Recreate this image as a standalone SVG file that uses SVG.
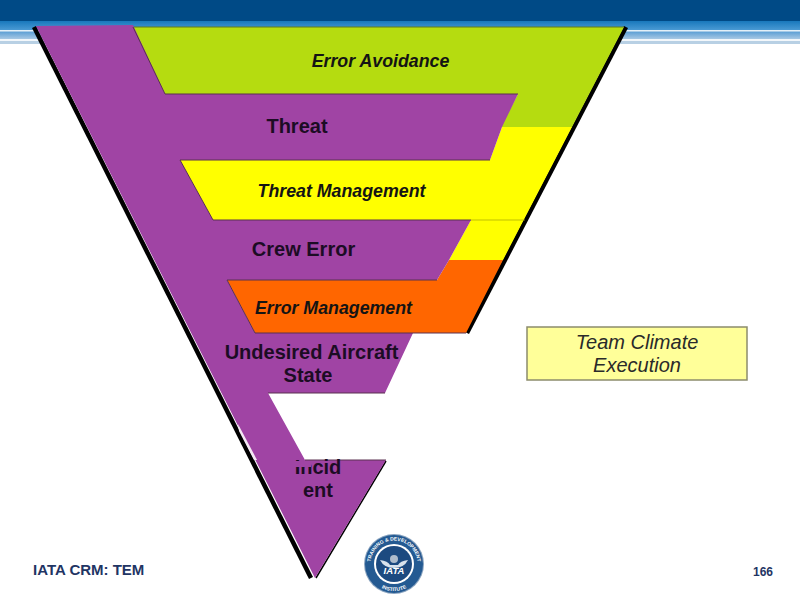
<svg xmlns="http://www.w3.org/2000/svg" width="800" height="600" viewBox="0 0 800 600">
<style>
.pu{fill:#a044a4}
.lab{font-family:"Liberation Sans",Arial,sans-serif;font-weight:bold;fill:#1c0c24;text-anchor:middle;font-size:20px}
.it{font-family:"Liberation Sans",Arial,sans-serif;font-weight:bold;font-style:italic;fill:#141414;text-anchor:middle;font-size:17.800px}
.ft{font-family:"Liberation Sans",Arial,sans-serif;font-weight:bold;fill:#1f3564}
.tc{font-family:"Liberation Sans",Arial,sans-serif;font-style:italic;font-size:20px;fill:#2a2a2a;text-anchor:middle}
.lg{font-family:"Liberation Sans",Arial,sans-serif;font-weight:bold;fill:#fff;text-anchor:middle}
</style>
<defs>
<linearGradient id="st1" x1="0" y1="0" x2="0" y2="1"><stop offset="0" stop-color="#1878bc"/><stop offset="1" stop-color="#4a9ad4"/></linearGradient>
<linearGradient id="st2" x1="0" y1="0" x2="0" y2="1"><stop offset="0" stop-color="#5a9ed4"/><stop offset="1" stop-color="#a8c8e4"/></linearGradient>
<path id="ringTop" d="M370.500 564a23.500 23.500 0 0 1 47 0"/>
<path id="ringBot" d="M367 564a27 27 0 0 0 54 0"/>
</defs>
<rect width="800" height="600" fill="#fff"/>
<g id="header">
<rect x="0" y="0" width="800" height="21" fill="#004a86"/>
<rect x="0" y="21" width="800" height="9" fill="url(#st1)"/>
<rect x="0" y="30" width="800" height="1.500" fill="#e4f0f8"/>
<rect x="0" y="31.500" width="800" height="7.500" fill="url(#st2)"/>
<rect x="0" y="39" width="800" height="2" fill="#f2f7fb"/>
<rect x="0" y="41" width="800" height="3" fill="#b8d0e4"/>
</g>
<g id="funnel-shadow" fill="none" stroke="#000" stroke-linecap="butt">
<path d="M34,27 L311,578" stroke-width="4.500"/>
<path d="M626,27 L467,333" stroke-width="4.500"/>
<path d="M386,461 L316,578" stroke-width="1.500"/>
</g>
<g id="error-avoidance">
<polygon points="133,27 624,27 572,127 501,127 518,94 165,94" fill="#b5dc10"/>
<path d="M133,27H624" stroke="#5f7a20" stroke-width="1" fill="none"/>
<text class="it" x="380.500" y="67">Error Avoidance</text>
</g>
<g id="threat-management">
<polygon points="180,160 490,160 502,127 572,127 503,260 449,260 471,220 213,220" fill="#ff0"/>
<path d="M471,220H525" stroke="#a8a800" stroke-width="0.700" fill="none"/>
<text class="it" x="341.500" y="197">Threat Management</text>
</g>
<g id="error-management">
<polygon points="227,280 437,280 449,260 503,260 466,333 255,333" fill="#f60"/>
<text class="it" x="333.500" y="314">Error Management</text>
</g>
<g id="purple-spine">
<polygon class="pu" points="36,26 133,25 165,94 518,94 502,127 490,160 180,160 213,220 471,220 449,260 437,280 227,280 255,333 413,333 385,393 268,393 305,460 386,460 315,578"/>
<polygon points="238,424 257,460 254,460 239,431" fill="#f4e8f4"/>
<path d="M133,27L165,94M165,94H518M180,160H490M180,160L213,220M213,220H471M227,280H437M227,280L255,333M255,333H466M268,393H385M305,460H386" stroke="#5a3050" stroke-width="1" fill="none"/>
</g>
<g id="threat"><text class="lab" x="297" y="133">Threat</text></g>
<g id="crew-error"><text class="lab" x="303.500" y="256">Crew Error</text></g>
<g id="undesired">
<text class="lab" x="311.500" y="359">Undesired Aircraft</text>
<text class="lab" x="308" y="382">State</text>
</g>
<g id="incident">
<text class="lab" x="318" y="474">Incid</text>
<rect x="294" y="461" width="17" height="6" class="pu"/>
<text class="lab" x="318" y="497">ent</text>
</g>
<g id="team-climate">
<rect x="527" y="327" width="220" height="53" fill="#ffff99" stroke="#8c8c6c" stroke-width="1.500"/>
<text class="tc" x="637" y="349">Team Climate</text>
<text class="tc" x="637" y="372">Execution</text>
</g>
<g id="footer">
<text class="ft" x="33" y="575" font-size="15">IATA CRM: TEM</text>
<text class="ft" x="753" y="576" font-size="12">166</text>
</g>
<g id="logo">
<circle cx="394" cy="564" r="30" fill="#8aa4c0"/>
<circle cx="394" cy="564" r="29" fill="#245a92"/>
<circle cx="394" cy="564" r="20" fill="#fff"/>
<circle cx="394" cy="564" r="18" fill="#1c4a80"/>
<path d="M380,560 Q388,561 390,565 H398 Q400,561 408,560 Q404,568 394,568 Q384,568 380,560Z" fill="#d8e2ec"/>
<circle cx="394" cy="559" r="4" fill="#aebccc"/>
<text class="lg" x="394" y="573.500" font-style="italic" font-size="9.500">IATA</text>
<text class="lg" font-size="5"><textPath href="#ringTop" startOffset="50%">TRAINING &amp; DEVELOPMENT</textPath></text>
<text class="lg" font-size="5"><textPath href="#ringBot" startOffset="50%">INSTITUTE</textPath></text>
</g>
</svg>
